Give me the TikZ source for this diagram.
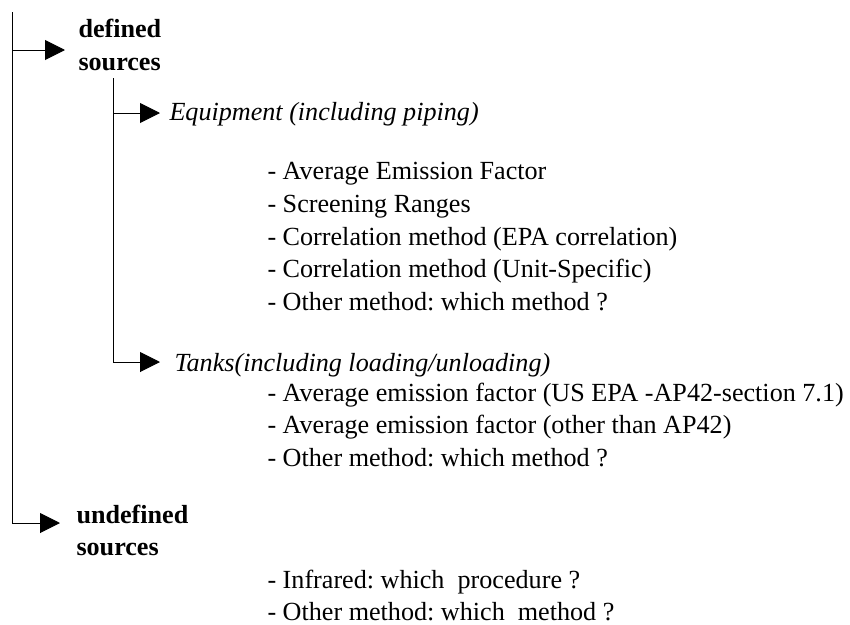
\documentclass[tikz,border=0pt]{standalone}
\usepackage{fontspec}
\setmainfont{Liberation Serif}
\usetikzlibrary{arrows.meta}
\frenchspacing
\begin{document}
\begin{tikzpicture}[x=0.75pt,y=-0.75pt,
  line width=0.75pt,
  arr/.style={-{Triangle[length=15pt,width=15pt]}},
  txt/.style={anchor=base west,inner sep=0pt,font=\fontsize{19.6}{24}\selectfont},
  head/.style={txt,font=\fontsize{19.6}{24}\selectfont\bfseries},
  sub/.style={txt,font=\fontsize{19.6}{24}\selectfont\itshape}]
\useasboundingbox (0,0) rectangle (850,625);
% headings
\node[head] (def1) at (78,37) {defined};
\node[head] (def2) at (78,70) {sources};
\node[sub] (equip) at (169,120) {Equipment (including piping)};
\node[sub] (tanks) at (174,371) {Tanks(including loading/unloading)};
\node[head] (und1) at (76,523) {undefined};
\node[head] (und2) at (76,555) {sources};
% equipment list
\node[txt] (e1) at (267,179.5) {- Average Emission Factor};
\node[txt] (e2) at (267,212.25) {- Screening Ranges};
\node[txt] (e3) at (267,245) {- Correlation method (EPA correlation)};
\node[txt] (e4) at (267,277.75) {- Correlation method (Unit-Specific)};
\node[txt] (e5) at (267,310.5) {- Other method: which method ?};
% tanks list
\node[txt] (t1) at (267,401) {- Average emission factor (US EPA -AP42-section 7.1)};
\node[txt] (t2) at (267,433.75) {- Average emission factor (other than AP42)};
\node[txt] (t3) at (267,466.5) {- Other method: which method ?};
% undefined list
\node[txt] (u1) at (267,588.5) {- Infrared: which\ \ procedure ?};
\node[txt] (u2) at (267,620) {- Other method: which\ \ method ?};
% tree connectors
\coordinate (trunk) at (12.7,12);
\coordinate (tipdef) at (65,50);
\coordinate (tipund) at (60,523);
\coordinate (branch) at (113,78);
\coordinate (tipeq) at (160,113);
\coordinate (tiptk) at (160,362);
\draw[arr] (trunk) |- (tipdef);
\draw[arr] (trunk) |- (tipund);
\draw[arr] (branch) |- (tipeq);
\draw[arr] (branch) |- (tiptk);
\end{tikzpicture}
\end{document}
